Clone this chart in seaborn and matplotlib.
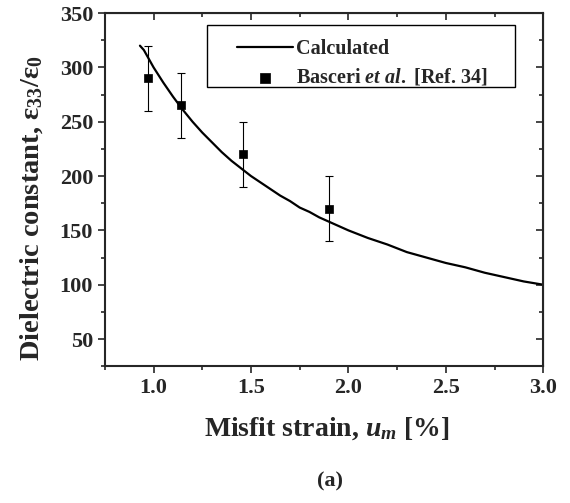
import numpy as np
import pandas as pd
import matplotlib
matplotlib.use("Agg")
import matplotlib.pyplot as plt
import seaborn as sns
from matplotlib.ticker import MultipleLocator
from matplotlib.patches import Rectangle

# calculated curve
calc_strain = [0.93, 0.95, 1.0, 1.05, 1.1, 1.15, 1.2, 1.25, 1.3, 1.35, 1.4,
               1.45, 1.5, 1.55, 1.6, 1.65, 1.7, 1.75, 1.8, 1.85, 1.9, 1.95,
               2.0, 2.1, 2.2, 2.3, 2.4, 2.5, 2.6, 2.7, 2.8, 2.9, 3.0]
calc_eps = [320, 316, 300, 286, 273, 261, 250, 240, 231, 222, 214,
            207, 200, 194, 188, 182, 177, 171, 167, 162, 158, 154,
            150, 143, 137, 130, 125, 120, 116, 111, 107, 103, 100]

# Basceri et al. data points
exp_strain = [0.97, 1.14, 1.46, 1.90]
exp_eps = [290, 265, 220, 170]
exp_err = [30, 30, 30, 30]

calc = pd.DataFrame({"strain": calc_strain, "eps": calc_eps})
exp = pd.DataFrame({"strain": exp_strain, "eps": exp_eps, "err": exp_err})

sns.set_style("ticks")
plt.rcParams["font.family"] = ["Liberation Serif", "DejaVu Serif"]
plt.rcParams["font.weight"] = "bold"
plt.rcParams["mathtext.fontset"] = "custom"
plt.rcParams["mathtext.rm"] = "Liberation Serif:bold"
plt.rcParams["mathtext.bf"] = "Liberation Serif:bold"
plt.rcParams["mathtext.it"] = "Liberation Serif:italic:bold"
plt.rcParams["mathtext.default"] = "bf"

fig = plt.figure(figsize=(5.7, 5.03), dpi=100)
ax = fig.add_axes([0.184, 0.272, 0.769, 0.702])

sns.lineplot(data=calc, x="strain", y="eps", ax=ax, color="black",
             linewidth=1.6, label="Calculated")
ax.errorbar(exp["strain"], exp["eps"], yerr=exp["err"], fmt="none",
            ecolor="black", elinewidth=0.8, capsize=3, capthick=0.8)
sns.scatterplot(data=exp, x="strain", y="eps", ax=ax, marker="s", s=36,
                color="black", edgecolor="black", linewidth=0.5,
                label=r"Basceri $\mathit{et\ al.}$ [Ref. 34]", zorder=5)

ax.set_xlim(0.75, 3.0)
ax.set_ylim(25, 350)
ax.xaxis.set_major_locator(MultipleLocator(0.5))
ax.xaxis.set_minor_locator(MultipleLocator(0.25))
ax.yaxis.set_major_locator(MultipleLocator(50))
ax.yaxis.set_minor_locator(MultipleLocator(25))
ax.set_yticks([50, 100, 150, 200, 250, 300, 350])

for s in ax.spines.values():
    s.set_linewidth(1.5)
    s.set_visible(True)

ax.tick_params(which="both", direction="out", labelsize=16, width=1.2)
ax.tick_params(which="major", length=5)
ax.tick_params(which="minor", length=3)
for lab in ax.get_xticklabels() + ax.get_yticklabels():
    lab.set_fontweight("bold")

# inward ticks on top and right
top = ax.secondary_xaxis("top")
top.xaxis.set_major_locator(MultipleLocator(0.5))
top.xaxis.set_minor_locator(MultipleLocator(0.25))
top.tick_params(which="both", direction="in", labeltop=False, width=1.2)
top.tick_params(which="major", length=5)
top.tick_params(which="minor", length=3)
right = ax.secondary_yaxis("right")
right.yaxis.set_major_locator(MultipleLocator(50))
right.yaxis.set_minor_locator(MultipleLocator(25))
right.tick_params(which="both", direction="in", labelright=False, width=1.2)
right.tick_params(which="major", length=5)
right.tick_params(which="minor", length=3)

ax.set_xlabel(r"Misfit strain, $\mathit{u}_{\mathit{m}}$ [%]", fontsize=20,
              fontweight="bold", va="top")
ax.xaxis.set_label_coords(0.505, -0.139)
ax.set_ylabel(r"Dielectric constant, ε$_{33}$/ε$_0$", fontsize=20.5,
              fontweight="bold", va="center")
ax.yaxis.set_label_coords(-0.167, 0.448)

# legend without its own frame, boxed separately (wide side padding)
leg = ax.legend(loc="upper left", bbox_to_anchor=(0.301, 0.927),
                borderaxespad=0, frameon=False, borderpad=0,
                fontsize=14.5, handlelength=2.8, handletextpad=0.15,
                labelspacing=0.4, markerscale=1.15)
for t in leg.get_texts():
    t.set_fontweight("bold")
ax.add_patch(Rectangle((0.233, 0.790), 0.703, 0.176, transform=ax.transAxes,
                       fill=False, edgecolor="black", linewidth=1.0,
                       zorder=6))

fig.text(0.579, 0.042, "(a)", ha="center", va="center", fontsize=16,
         fontweight="bold")

fig.savefig("out.png", dpi=100)
